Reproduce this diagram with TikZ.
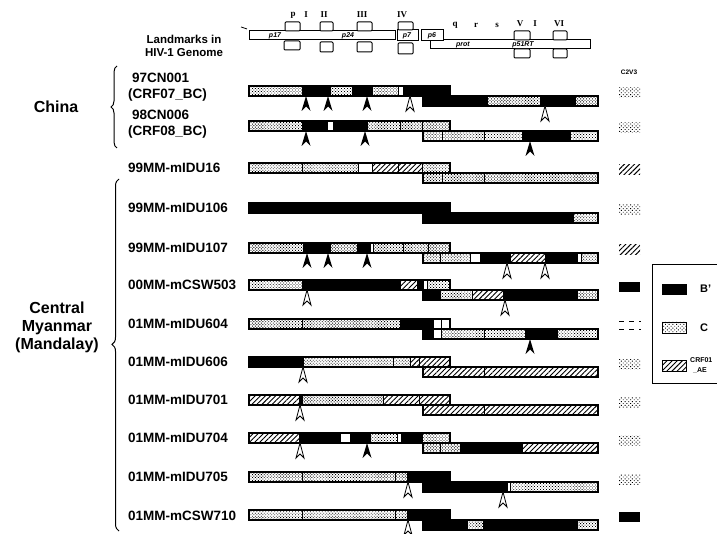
\documentclass[tikz,border=0pt]{standalone}
\usepackage{fontspec}
\setmainfont{Liberation Sans}
\newfontfamily\serifb{Liberation Serif}
\usetikzlibrary{patterns.meta,decorations.pathreplacing}
\tikzset{
  segC/.style={draw=black,line width=0.7pt,pattern={Dots[distance=2.1pt,radius=0.6pt,angle=45]},pattern color=black},
  segB/.style={draw=black,line width=0.7pt,fill=black},
  segAE/.style={draw=black,line width=0.7pt,pattern={Lines[angle=45,distance=3.6pt,line width=0.9pt]},pattern color=black},
  segW/.style={draw=black,line width=0.7pt,fill=white},
  swC/.style={pattern={Dots[distance=2.6pt,radius=0.65pt,angle=45]},pattern color=black},
  swAE/.style={pattern={Lines[angle=45,distance=3.6pt,line width=1pt]},pattern color=black},
  swB/.style={fill=black},
  lab/.style={anchor=west,inner sep=0pt,font=\bfseries\fontsize{13.5}{15}\selectfont},
  lab2/.style={anchor=west,inner sep=0pt,align=left,font=\bfseries\fontsize{13.5}{16}\selectfont},
  grp/.style={inner sep=0pt,align=center,font=\bfseries\fontsize{16}{18}\selectfont},
  gbox/.style={draw=black,line width=1pt,fill=white},
  gtxt/.style={inner sep=0pt,font=\bfseries\itshape\fontsize{7}{8}\selectfont},
  rom/.style={inner sep=0pt,font=\serifb\bfseries\fontsize{9}{10}\selectfont},
  brc/.style={decorate,line width=1pt},
}
\newcommand\useg[3]{\path[#3] (#1,\uy) rectangle (#2,\uy+10);}
\newcommand\lseg[3]{\path[#3] (#1,\uy+10) rectangle (#2,\uy+20);}
\newcommand\bars{\draw[line width=1.1pt] (249,\uy) rectangle (450,\uy+10); \draw[line width=1.1pt] (423,\uy+10) rectangle (598,\uy+20);}
\newcommand\fa[2]{\fill[black] (#1,\uy+#2) -- ++(-4.5,15) -- ++(4.5,-4.5) -- ++(4.5,4.5) -- cycle;}
\newcommand\oa[2]{\draw[line width=0.8pt,fill=white] (#1,\uy+#2) -- ++(-4,15) -- ++(4,-4) -- ++(4,4) -- cycle;}
\newcommand\csw[1]{\path[#1] (619,\uy+2) rectangle (640,\uy+12);}
\begin{document}
\begin{tikzpicture}[x=1pt,y=-1pt]
\useasboundingbox (0,0) rectangle (717,534);
\clip (0,0) rectangle (717,534);

% ---------- genome landmarks ----------
\node[inner sep=0pt,align=center,font=\bfseries\fontsize{11.5}{13}\selectfont] (landm) at (184,46) {Landmarks in\\HIV-1 Genome};
\draw[line width=0.8pt] (241,27) -- (247,29);
\draw[gbox] (249,31) rectangle (395,40);
\node[gtxt] (p17) at (275,36) {p17};
\node[gtxt] (p24) at (348,36) {p24};
\draw[gbox] (430,40) rectangle (590,49);
\node[gtxt] (prot) at (463,45) {prot};
\node[gtxt] (rt) at (523,45) {p51RT};
\draw[gbox] (397,30) rectangle (418,41);
\node[gtxt] (p7) at (407,36) {p7};
\draw[gbox] (421,30) rectangle (443,41);
\node[gtxt] (p6) at (432,36) {p6};
% primer region boxes
\draw[gbox,rounded corners=1pt] (285,22) rectangle (300,31);
\draw[gbox,rounded corners=1pt] (284,41) rectangle (300,50);
\draw[gbox,rounded corners=1pt] (320,22) rectangle (333,31);
\draw[gbox,rounded corners=1pt] (320,42) rectangle (333,52);
\draw[gbox,rounded corners=1pt] (357,22) rectangle (372,31);
\draw[gbox,rounded corners=1pt] (357,42) rectangle (372,52);
\draw[gbox,rounded corners=1pt] (398,22) rectangle (413,30);
\draw[gbox,rounded corners=1pt] (398,43) rectangle (413,54);
\draw[gbox,rounded corners=1pt] (514,31) rectangle (530,40);
\draw[gbox,rounded corners=1pt] (514,49) rectangle (530,58);
\draw[gbox,rounded corners=1pt] (553,31) rectangle (567,40);
\draw[gbox,rounded corners=1pt] (553,49) rectangle (567,58);
\node[rom] (rp) at (293,15) {p};
\node[rom] (r1) at (306,15) {I};
\node[rom] (r2) at (324,15) {II};
\node[rom] (r3) at (362,15) {III};
\node[rom] (r4) at (402,15) {IV};
\node[rom] (rq) at (455,25) {q};
\node[rom] (rr) at (476,25) {r};
\node[rom] (rs) at (497,25) {s};
\node[rom] (r5) at (520,24) {V};
\node[rom] (r1b) at (535,24) {I};
\node[rom] (r6) at (559,24) {VI};
\node[inner sep=0pt,font=\bfseries\fontsize{6.5}{7}\selectfont] (c2v3) at (629,72) {C2V3};

% ---------- group labels and braces ----------
\node[grp] (china) at (56,107) {China};
\draw[brc,decoration={brace,amplitude=6pt}] (117,148) -- (117,66);
\node[grp] (cm) at (57,327) {Central\\Myanmar\\(Mandalay)};
\draw[brc,decoration={brace,amplitude=7pt,aspect=0.53}] (119,531) -- (119,179);

% ---------- row 1: 97CN001 ----------
\def\uy{86}
\node[lab2] (s1) at (128,87) {\hspace*{4pt}97CN001\\(CRF07\_BC)};
\useg{249}{302}{segC}\useg{302}{330}{segB}\useg{330}{352}{segC}\useg{352}{372}{segB}
\useg{372}{398}{segC}\useg{398}{403}{segW}\useg{403}{450}{segB}
\lseg{423}{487}{segB}\lseg{487}{540}{segC}\lseg{540}{575}{segB}\lseg{575}{598}{segC}
\bars
\fa{306}{10}\fa{328}{10}\fa{367}{10}\oa{410}{10}\oa{545}{20}
\csw{swC}

% ---------- row 2: 98CN006 ----------
\def\uy{121}
\node[lab2] (s2) at (128,124) {\hspace*{4pt}98CN006\\(CRF08\_BC)};
\useg{249}{302}{segC}\useg{302}{327}{segB}\useg{327}{333}{segW}\useg{333}{367}{segB}
\useg{367}{400}{segC}\useg{400}{422}{segC}\useg{422}{450}{segC}
\lseg{423}{442}{segC}\lseg{442}{484}{segC}\lseg{484}{522}{segC}\lseg{522}{570}{segB}\lseg{570}{598}{segC}
\bars
\fa{306}{10}\fa{365}{10}\fa{530}{20}
\csw{swC}

% ---------- row 3: 99MM-mIDU16 ----------
\def\uy{163}
\node[lab] (s3) at (128,168) {99MM-mIDU16};
\useg{249}{302}{segC}\useg{302}{358}{segC}\useg{358}{372}{segW}\useg{372}{398}{segAE}
\useg{398}{422}{segAE}\useg{422}{450}{segC}
\lseg{423}{442}{segC}\lseg{442}{484}{segC}\lseg{484}{598}{segC}
\bars
\csw{swAE}

% ---------- row 4: 99MM-mIDU106 ----------
\def\uy{203}
\node[lab] (s4) at (128,208) {99MM-mIDU106};
\useg{249}{450}{segB}
\lseg{423}{573}{segB}\lseg{573}{598}{segC}
\bars
\csw{swC}

% ---------- row 5: 99MM-mIDU107 ----------
\def\uy{243}
\node[lab] (s5) at (128,248) {99MM-mIDU107};
\useg{249}{303}{segC}\useg{303}{330}{segB}\useg{330}{357}{segC}\useg{357}{370}{segB}
\useg{370}{373}{segW}\useg{373}{403}{segC}\useg{403}{428}{segC}\useg{428}{450}{segC}
\lseg{423}{440}{segC}\lseg{440}{470}{segC}\lseg{470}{480}{segW}\lseg{480}{510}{segB}
\lseg{510}{545}{segAE}\lseg{545}{577}{segB}\lseg{577}{581}{segW}\lseg{581}{598}{segC}
\bars
\fa{307}{10}\fa{328}{10}\fa{367}{10}\oa{507}{20}\oa{545}{20}
\csw{swAE}

% ---------- row 6: 00MM-mCSW503 ----------
\def\uy{280}
\node[lab] (s6) at (128,285) {00MM-mCSW503};
\useg{249}{302}{segC}\useg{302}{400}{segB}\useg{400}{417}{segAE}\useg{417}{423}{segB}
\useg{423}{427}{segW}\useg{427}{450}{segC}
\lseg{423}{440}{segB}\lseg{440}{472}{segC}\lseg{472}{503}{segAE}\lseg{503}{577}{segB}\lseg{577}{598}{segC}
\bars
\oa{307}{10}\oa{505}{20}
\csw{swB}

% ---------- row 7: 01MM-mIDU604 ----------
\def\uy{319}
\node[lab] (s7) at (128,324) {01MM-mIDU604};
\useg{249}{302}{segC}\useg{302}{400}{segC}\useg{400}{433}{segB}\useg{433}{441}{segW}\useg{441}{450}{segW}
\lseg{423}{433}{segB}\lseg{433}{441}{segW}\lseg{441}{484}{segC}\lseg{484}{525}{segC}
\lseg{525}{557}{segB}\lseg{557}{598}{segC}
\bars
\fa{530}{20}
\draw[line width=1pt,dash pattern=on 5pt off 5pt] (619,\uy+3) -- (641,\uy+3);
\draw[line width=1pt,dash pattern=on 5pt off 5pt] (619,\uy+11) -- (641,\uy+11);

% ---------- row 8: 01MM-mIDU606 ----------
\def\uy{357}
\node[lab] (s8) at (128,362) {01MM-mIDU606};
\useg{249}{303}{segB}\useg{303}{393}{segC}\useg{393}{410}{segC}\useg{410}{419}{segAE}\useg{419}{450}{segAE}
\lseg{423}{484}{segAE}\lseg{484}{598}{segAE}
\bars
\oa{303}{10}
\csw{swC}

% ---------- row 9: 01MM-mIDU701 ----------
\def\uy{395}
\node[lab] (s9) at (128,400) {01MM-mIDU701};
\useg{249}{299}{segAE}\useg{299}{302}{segB}\useg{302}{383}{segC}\useg{383}{419}{segAE}\useg{419}{450}{segAE}
\lseg{423}{484}{segAE}\lseg{484}{598}{segAE}
\bars
\oa{300}{10}
\csw{swC}

% ---------- row 10: 01MM-mIDU704 ----------
\def\uy{433}
\node[lab] (s10) at (128,438) {01MM-mIDU704};
\useg{249}{299}{segAE}\useg{299}{340}{segB}\useg{340}{350}{segW}\useg{350}{370}{segB}
\useg{370}{397}{segC}\useg{397}{401}{segW}\useg{401}{422}{segB}\useg{422}{450}{segC}
\lseg{423}{440}{segC}\lseg{440}{460}{segC}\lseg{460}{522}{segB}\lseg{522}{598}{segAE}
\bars
\oa{300}{10}\fa{367}{10}
\csw{swC}

% ---------- row 11: 01MM-mIDU705 ----------
\def\uy{472}
\node[lab] (s11) at (128,477) {01MM-mIDU705};
\useg{249}{302}{segC}\useg{302}{395}{segC}\useg{395}{407}{segC}\useg{407}{450}{segB}
\lseg{423}{507}{segB}\lseg{507}{510}{segW}\lseg{510}{598}{segC}
\bars
\oa{408}{10}\oa{503}{20}
\csw{swC}

% ---------- row 12: 01MM-mCSW710 ----------
\def\uy{510}
\node[lab] (s12) at (128,516) {01MM-mCSW710};
\useg{249}{302}{segC}\useg{302}{395}{segC}\useg{395}{407}{segC}\useg{407}{450}{segB}
\lseg{423}{467}{segB}\lseg{467}{483}{segC}\lseg{483}{577}{segB}\lseg{577}{598}{segC}
\bars
\oa{408}{10}
\csw{swB}

% ---------- legend ----------
\draw[line width=1pt] (652,265) rectangle (740,383);
\path[segB] (662,284) rectangle (686,294);
\node[inner sep=0pt,anchor=west,font=\bfseries\fontsize{11}{12}\selectfont] (lb) at (700,289) {B'};
\path[segW] (662,322) rectangle (686,333);
\path[swC] (662,322) rectangle (686,333);
\node[inner sep=0pt,anchor=west,font=\bfseries\fontsize{11}{12}\selectfont] (lc) at (700,328) {C};
\path[segAE] (662,360) rectangle (686,371);
\node[inner sep=0pt,anchor=west,align=left,font=\bfseries\fontsize{7}{10}\selectfont] (lae) at (690,365) {CRF01\\\hspace*{3pt}\_AE};
\end{tikzpicture}
\end{document}
